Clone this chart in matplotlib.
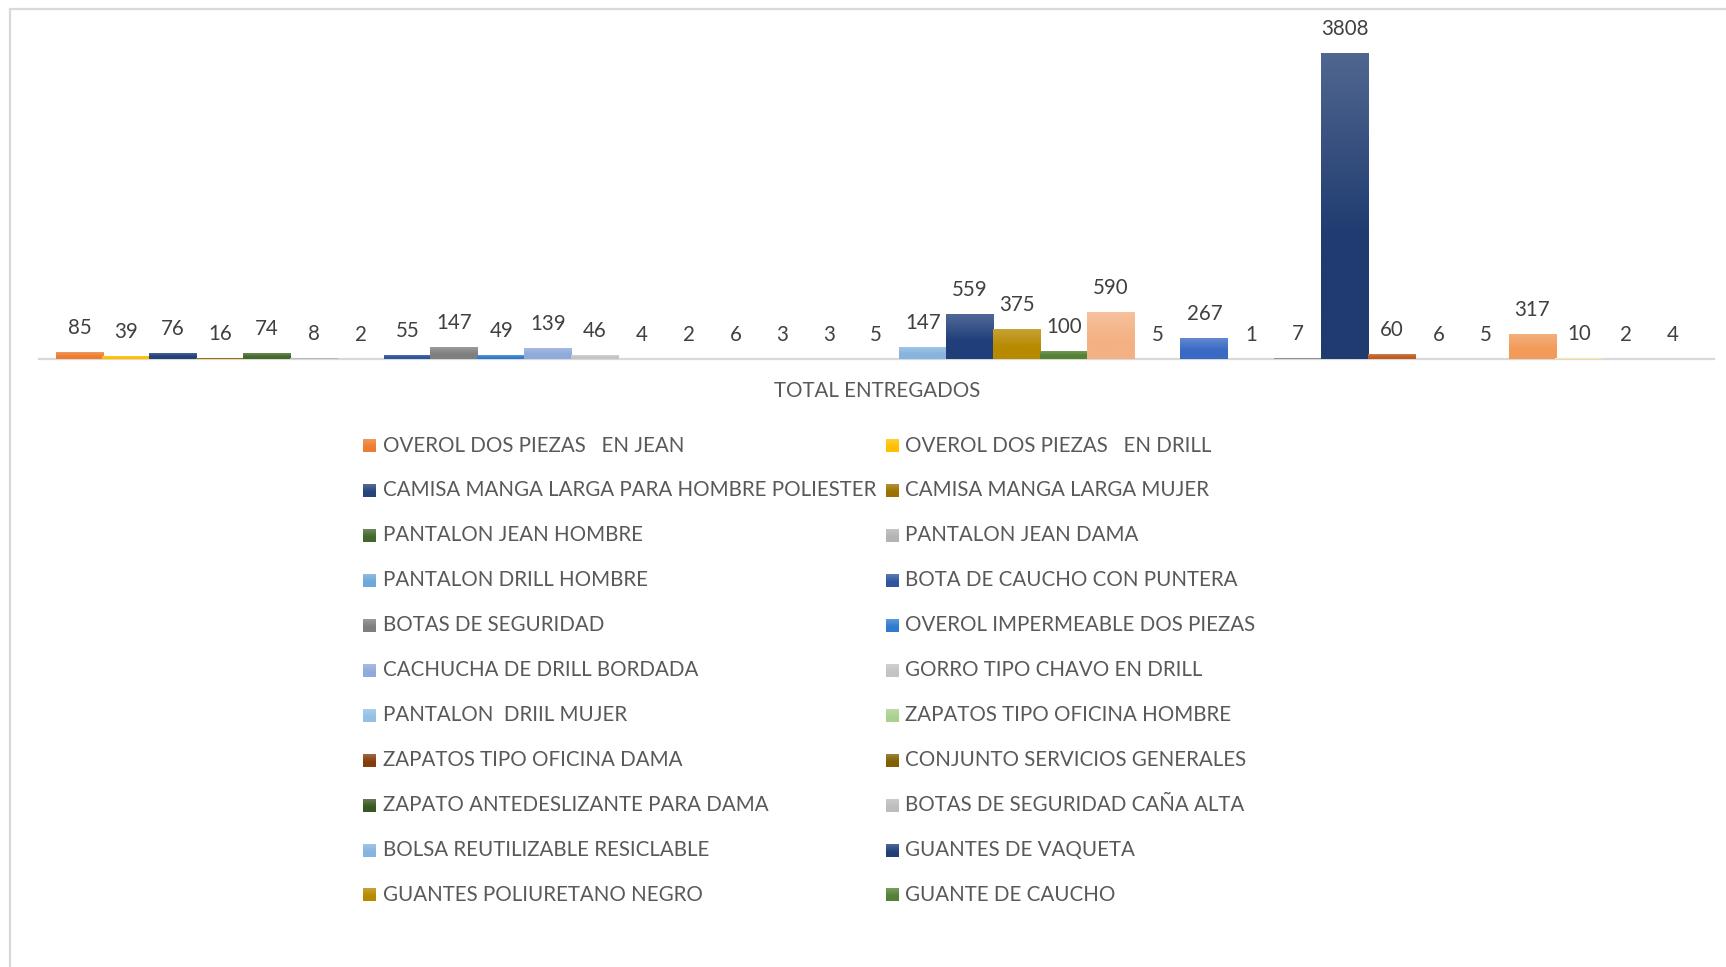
import numpy as np
import matplotlib
matplotlib.use("Agg")
import matplotlib.pyplot as plt
from matplotlib.colors import to_rgb

# ---- data -------------------------------------------------------------
category = "TOTAL ENTREGADOS"

values = [85, 39, 76, 16, 74, 8, 2, 55, 147, 49, 139, 46, 4, 2, 6, 3, 3, 5,
          147, 559, 375, 100, 590, 5, 267, 1, 7, 3808, 60, 6, 5, 317, 10, 2, 4]

series_names = [
    "OVEROL DOS PIEZAS   EN JEAN",
    "OVEROL DOS PIEZAS   EN DRILL",
    "CAMISA MANGA LARGA PARA HOMBRE POLIESTER",
    "CAMISA MANGA LARGA MUJER",
    "PANTALON JEAN HOMBRE",
    "PANTALON JEAN DAMA",
    "PANTALON DRILL HOMBRE",
    "BOTA DE CAUCHO CON PUNTERA",
    "BOTAS DE SEGURIDAD",
    "OVEROL IMPERMEABLE DOS PIEZAS",
    "CACHUCHA DE DRILL BORDADA",
    "GORRO TIPO CHAVO EN DRILL",
    "PANTALON  DRIIL MUJER",
    "ZAPATOS TIPO OFICINA HOMBRE",
    "ZAPATOS TIPO OFICINA DAMA",
    "CONJUNTO SERVICIOS GENERALES",
    "ZAPATO ANTEDESLIZANTE PARA DAMA",
    "BOTAS DE SEGURIDAD CAÑA ALTA",
    "BOLSA REUTILIZABLE RESICLABLE",
    "GUANTES DE VAQUETA",
    "GUANTES POLIURETANO NEGRO",
    "GUANTE DE CAUCHO",
]

series_colors = [
    "#ED7D31", "#FFC000", "#25437A", "#9E7000", "#43682B", "#B4B4B4",
    "#6FA8DC", "#2F559F", "#7F7F7F", "#2E7BCF", "#8FAADC", "#C4C4C4",
    "#93C0E6", "#A9D18E", "#843C0C", "#7F6000", "#385723", "#BDBDBD",
    "#86B4E0", "#203E7A", "#B88A00", "#548235", "#F4B183", "#FFD966",
    "#3A6AC4", "#C5E0B4", "#8C8C8C", "#1F3B70", "#C05A1E", "#BF9000",
    "#70AD47", "#F29B5A", "#FFE699", "#A9BEE6", "#A8D08D",
]

# ---- figure geometry (pixels) -----------------------------------------
W, H = 1726, 967
plt.rcParams["font.family"] = ["Lato", "DejaVu Sans"]
fig = plt.figure(figsize=(W / 100, H / 100), dpi=100)
fig.patch.set_facecolor("white")

AX_L, AX_R = 39.3, 1714
AX_T, AX_B = 37.6, 359
BAR_PX = 46.87
FIRST_BAR_LEFT = 56.0

TEXT_LABEL = "#404040"
TEXT_LEGEND = "#595959"
GRID_GRAY = "#D9D9D9"
FS = 14.8


def lighten(c, f):
    r = np.array(to_rgb(c))
    return r + (1 - r) * f


def gradient(c, n=64):
    top = lighten(c, 0.22)
    base = np.array(to_rgb(c))
    t = np.clip(np.linspace(0, 1, n) / 0.6, 0, 1)[:, None]
    col = top * (1 - t) + base * t
    return col[:, None, :]


# ---- decoration layer (border, category label, legend) ----------------
ov = fig.add_axes([0, 0, 1, 1])
ov.set_zorder(0)
ov.axis("off")

ov.plot([10, 10, W + 5], [H + 5, 9, 9], color=GRID_GRAY, lw=1.6,
        solid_capstyle="butt", clip_on=False)
ov.text(877, 391, category, ha="center", va="center", fontsize=FS,
        color=TEXT_LEGEND)

col_x = [369.5, 892.0]
row_y0, row_dy, sq = 445.5, 44.95, 13
for k, name in enumerate(series_names):
    cx = col_x[k % 2]
    cy = row_y0 + (k // 2) * row_dy
    ov.imshow(gradient(series_colors[k]), extent=(cx - sq / 2, cx + sq / 2,
                                                  cy + sq / 2, cy - sq / 2),
              aspect="auto", interpolation="bilinear")
    ov.text(cx + sq / 2 + 6.5, cy, name, ha="left", va="center",
            fontsize=FS, color=TEXT_LEGEND)
ov.set_xlim(0, W)
ov.set_ylim(H, 0)

# ---- bar chart ----------------------------------------------------------
ax = fig.add_axes([AX_L / W, 1 - AX_B / H, (AX_R - AX_L) / W,
                   (AX_B - AX_T) / H])
ax.set_zorder(1)
ax.patch.set_visible(False)

n = len(values)
x = np.arange(n)
bars = ax.bar(x, values, width=1.02, color=series_colors[:n], linewidth=0,
              zorder=2)
for patch, c in zip(bars.patches, series_colors):
    h = patch.get_height()
    if h <= 0:
        continue
    x0, w = patch.get_x(), patch.get_width()
    im = ax.imshow(gradient(c), extent=(x0, x0 + w, 0, h), aspect="auto",
                   interpolation="bilinear", zorder=2.2)
    im.set_clip_path(patch)

for xi, v in zip(x, values):
    ax.annotate(f"{v}", (xi, v), xytext=(0, 24), textcoords="offset pixels",
                ha="center", va="center", fontsize=FS, color=TEXT_LABEL)

x_lo = -0.5 - (FIRST_BAR_LEFT - AX_L) / BAR_PX
ax.set_xlim(x_lo, x_lo + (AX_R - AX_L) / BAR_PX)
ax.set_ylim(0, 4000)
ax.set_xticks([])
ax.set_yticks([])
for side in ("left", "right", "top"):
    ax.spines[side].set_visible(False)
ax.spines["bottom"].set_color(GRID_GRAY)
ax.spines["bottom"].set_linewidth(1.6)
ax.spines["bottom"].set_zorder(1)

fig.savefig("out.png", dpi=100, facecolor="white")
